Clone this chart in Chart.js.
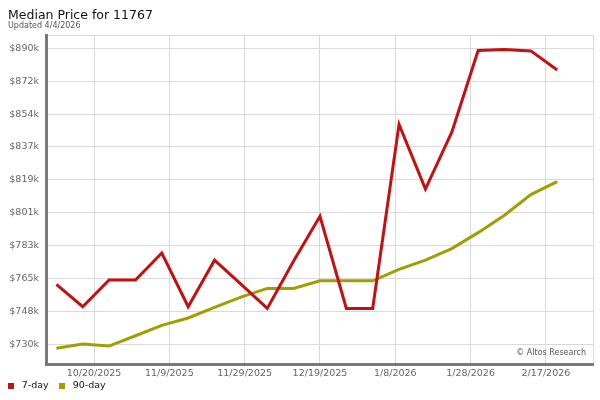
<!DOCTYPE html>
<html>
<head>
<meta charset="utf-8">
<script src="https://cdn.jsdelivr.net/npm/chart.js@4.4.1/dist/chart.umd.min.js"></script>
<style>
  html, body { margin: 0; padding: 0; background: #fff; }
  #wrap { width: 600px; height: 400px; }
</style>
</head>
<body>
<div id="wrap"><canvas id="chart"></canvas></div>
<script>
// weekly sample dates
const dates = [
  '2025-10-10', '2025-10-17', '2025-10-24', '2025-10-31', '2025-11-07',
  '2025-11-14', '2025-11-21', '2025-11-28', '2025-12-05', '2025-12-12',
  '2025-12-19', '2025-12-26', '2026-01-02', '2026-01-09', '2026-01-16',
  '2026-01-23', '2026-01-30', '2026-02-06', '2026-02-13', '2026-02-20'
];
// median price, $k
const sevenDay = [
  762.3, 750.2, 764.7, 764.7, 779.3, 750.2, 775.4, 762.4, 749.3, 774.9,
  799.2, 749.3, 749.3, 848.9, 813.9, 844.7, 888.9, 889.4, 888.7, 878.4
];
const ninetyDay = [
  727.7, 730.0, 728.9, 734.5, 740.1, 744.1, 749.8, 755.4, 760.1, 760.1,
  764.2, 764.2, 764.2, 770.4, 775.4, 781.7, 790.3, 799.7, 810.9, 817.9
];
const xTickDates = ['2025-10-20', '2025-11-09', '2025-11-29', '2025-12-19', '2026-01-08', '2026-01-28', '2026-02-17'];
const xTickLabels = ['10/20/2025', '11/9/2025', '11/29/2025', '12/19/2025', '1/8/2026', '1/28/2026', '2/17/2026'];
const yTickValues = [730, 747.8, 765.6, 783.3, 801.1, 818.9, 836.7, 854.4, 872.2, 890];
const yTickLabels = ['$730k', '$748k', '$765k', '$783k', '$801k', '$819k', '$837k', '$854k', '$872k', '$890k'];

const day = s => {
  const [y, m, d] = s.split('-').map(Number);
  return Date.UTC(y, m - 1, d) / 864e5;
};

const xMin = day('2025-10-20') - 12.75;
const xMax = day('2026-02-17') + 12.5;
const yMin = 719.2;
const yMax = 897.3;

const FONT = "'DejaVu Sans', Verdana, sans-serif";

// heading top left, legend bottom left, watermark lower right of the plot
const extras = {
  id: 'extras',
  afterDraw(chart) {
    const { ctx, chartArea } = chart;
    ctx.save();
    ctx.textBaseline = 'alphabetic';
    ctx.textAlign = 'left';
    ctx.fillStyle = '#111';
    ctx.font = '12.5px ' + FONT;
    ctx.fillText('Median Price for 11767', 8, 18.5);
    ctx.fillStyle = '#555';
    ctx.font = '8px ' + FONT;
    ctx.fillText('Updated 4/4/2026', 8, 28);

    ctx.textAlign = 'right';
    ctx.textBaseline = 'middle';
    ctx.fillText('\u00a9 Altos Research', chartArea.right - 7, chartArea.bottom - 11);

    // legend
    ctx.textAlign = 'left';
    ctx.font = '9.5px ' + FONT;
    let x = 8;
    chart.data.datasets.forEach(ds => {
      ctx.fillStyle = ds.borderColor;
      ctx.fillRect(x, 383, 6, 6);
      ctx.fillStyle = '#111';
      ctx.fillText(ds.label, x + 13.7, 386);
      x = Math.round(x + 13.7 + ctx.measureText(ds.label).width + 10.6);
    });
    ctx.restore();
  }
};

new Chart(document.getElementById('chart'), {
  type: 'line',
  data: {
    datasets: [
      {
        label: '7-day',
        data: dates.map((d, i) => ({ x: day(d), y: sevenDay[i] })),
        borderColor: '#c41010',
        backgroundColor: '#c41010',
        borderWidth: 3,
        pointRadius: 0,
        tension: 0
      },
      {
        label: '90-day',
        data: dates.map((d, i) => ({ x: day(d), y: ninetyDay[i] })),
        borderColor: '#a39e00',
        backgroundColor: '#a39e00',
        borderWidth: 3,
        pointRadius: 0,
        tension: 0
      }
    ]
  },
  options: {
    responsive: true,
    maintainAspectRatio: false,
    animation: false,
    layout: { padding: { left: 0, right: 7, top: 35, bottom: 0 } },
    plugins: {
      title: { display: false },
      legend: { display: false },
      tooltip: { enabled: false }
    },
    scales: {
      x: {
        type: 'linear',
        min: xMin,
        max: xMax,
        afterBuildTicks: s => {
          s.ticks = xTickDates.map(d => ({ value: day(d) })).concat([{ value: xMax }]);
        },
        afterFit: s => { s.height = 36; },
        ticks: {
          autoSkip: false,
          maxRotation: 0,
          padding: 3.5,
          color: '#666',
          font: { family: FONT, size: 9.5 },
          callback: (v, i) => xTickLabels[i] || ''
        },
        grid: { color: '#d9d9d9', lineWidth: 1, drawTicks: false },
        border: { color: '#7a7a7a', width: 3 }
      },
      y: {
        min: yMin,
        max: yMax,
        afterBuildTicks: s => {
          s.ticks = yTickValues.map(v => ({ value: v })).concat([{ value: yMax }]);
        },
        afterFit: s => { s.width = 46; },
        ticks: {
          autoSkip: false,
          padding: 7,
          color: '#666',
          font: { family: FONT, size: 9.5 },
          callback: (v, i) => yTickLabels[i] || ''
        },
        grid: { color: '#d9d9d9', lineWidth: 1, drawTicks: false },
        border: { color: '#7a7a7a', width: 3 }
      }
    }
  },
  plugins: [extras]
});
</script>
</body>
</html>
